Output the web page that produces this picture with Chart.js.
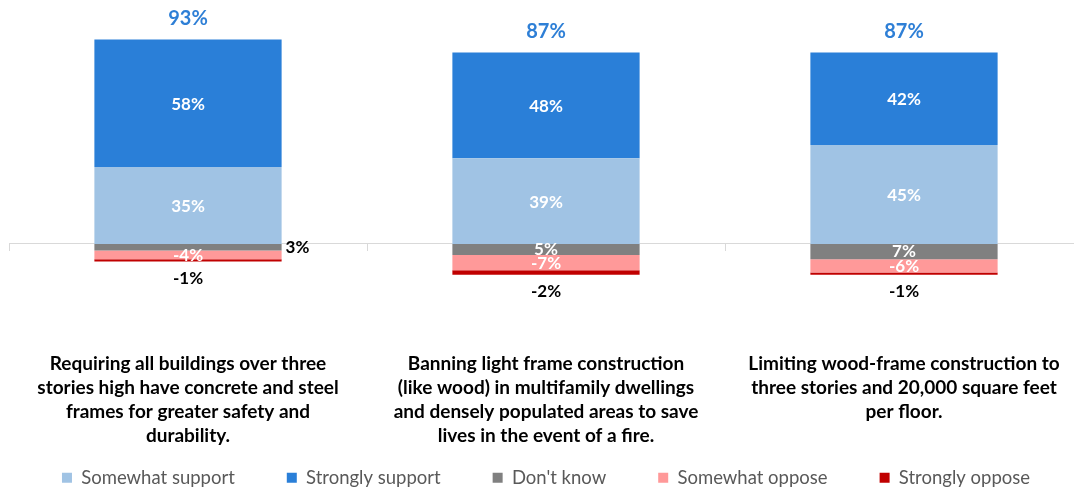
<!DOCTYPE html>
<html><head><meta charset="utf-8">
<script src="https://cdn.jsdelivr.net/npm/chart.js@4.4.1/dist/chart.umd.min.js"></script>
<style>html,body{margin:0;padding:0;background:#fff;overflow:hidden}#wrap{width:1083px;height:489px;position:relative}</style>
</head><body><div id="wrap"><canvas id="c"></canvas></div>
<script>
const categories = [
  ["Requiring all buildings over three", "stories high have concrete and steel", "frames for greater safety and", "durability."],
  ["Banning light frame construction", "(like wood) in multifamily dwellings", "and densely populated areas to save", "lives in the event of a fire."],
  ["Limiting wood-frame construction to", "three stories and 20,000 square feet", "per floor."]
];
const seriesNames = ["Somewhat support", "Strongly support", "Don't know", "Somewhat oppose", "Strongly oppose"];
const somewhatSupport = [35, 39, 45];
const stronglySupport = [58, 48, 42];
const dontKnow = [3, 5, 7];
const somewhatOppose = [-4, -7, -6];
const stronglyOppose = [-1, -2, -1];

Chart.defaults.font.family = "Lato, 'Open Sans', sans-serif";

const valueLabels = {
  id: 'valueLabels',
  afterDatasetsDraw(chart) {
    const ctx = chart.ctx;
    ctx.save();
    ctx.textAlign = 'center';
    ctx.textBaseline = 'middle';
    chart.data.datasets.forEach((ds, di) => {
      const meta = chart.getDatasetMeta(di);
      meta.data.forEach((bar, i) => {
        const v = di === 2 ? dontKnow[i] : ds.data[i];
        const txt = v + '%';
        const top = Math.min(bar.y, bar.base), bot = Math.max(bar.y, bar.base);
        const cy = (top + bot) / 2;
        ctx.font = "bold 17px Lato, sans-serif";
        if (di === 0 || di === 1 || di === 3) {
          ctx.fillStyle = '#ffffff';
          ctx.textAlign = 'center';
          ctx.fillText(txt, bar.x, cy + 1);
        } else if (di === 2) {
          if (Math.abs(v) < 4) {
            ctx.fillStyle = '#000000';
            ctx.textAlign = 'left';
            ctx.fillText(txt, bar.x + bar.width / 2 + 4, cy);
          } else {
            ctx.fillStyle = '#ffffff';
            ctx.textAlign = 'center';
            ctx.fillText(txt, bar.x, cy);
          }
        } else if (di === 4) {
          ctx.fillStyle = '#000000';
          ctx.textAlign = 'center';
          ctx.fillText(txt, bar.x, bot + 17);
        }
      });
    });
    const meta1 = chart.getDatasetMeta(1);
    meta1.data.forEach((bar, i) => {
      const total = somewhatSupport[i] + stronglySupport[i];
      ctx.font = "bold 20px Lato, sans-serif";
      ctx.fillStyle = '#2E7FD6';
      ctx.textAlign = 'center';
      ctx.fillText(total + '%', bar.x, Math.min(bar.y, bar.base) - 21);
    });
    ctx.restore();
  }
};

new Chart(document.getElementById('c'), {
  type: 'bar',
  data: {
    labels: categories,
    datasets: [
      { label: seriesNames[0], data: somewhatSupport, backgroundColor: '#A0C3E4' },
      { label: seriesNames[1], data: stronglySupport, backgroundColor: '#2A7FD8' },
      { label: seriesNames[2], data: dontKnow.map(v => -v), backgroundColor: '#808080' },
      { label: seriesNames[3], data: somewhatOppose, backgroundColor: '#FF9999' },
      { label: seriesNames[4], data: stronglyOppose, backgroundColor: '#C00000' }
    ]
  },
  options: {
    responsive: true,
    maintainAspectRatio: false,
    animation: false,
    devicePixelRatio: 1,
    datasets: { bar: { barPercentage: 0.523, categoryPercentage: 1, borderWidth: 0 } },
    layout: { padding: { top: 24, left: 9, right: 0, bottom: -8 } },
    scales: {
      x: {
        stacked: true,
        grid: { display: false },
        border: { display: false },
        afterFit(scale) { scale.height = 67; },
        ticks: {
          autoSkip: false, maxRotation: 0, minRotation: 0,
          mirror: true, padding: -26,
          color: '#000000',
          font: { size: 19, weight: 'bold', lineHeight: 1.263 }
        }
      },
      x2: {
        type: 'category',
        position: { y: 0 },
        offset: true,
        grid: { display: true, offset: true, drawOnChartArea: false, drawTicks: true, tickLength: 7, color: '#d9d9d9' },
        border: { display: true, color: '#d9d9d9' },
        ticks: { display: false }
      },
      y: {
        stacked: true,
        display: false,
        min: -48,
        max: 100
      }
    },
    plugins: {
      legend: {
        position: 'bottom',
        labels: {
          boxWidth: 10, boxHeight: 10, padding: 52,
          color: '#595959',
          font: { size: 18.5 }
        }
      },
      tooltip: { enabled: false }
    }
  },
  plugins: [valueLabels]
});
</script>
</body></html>
